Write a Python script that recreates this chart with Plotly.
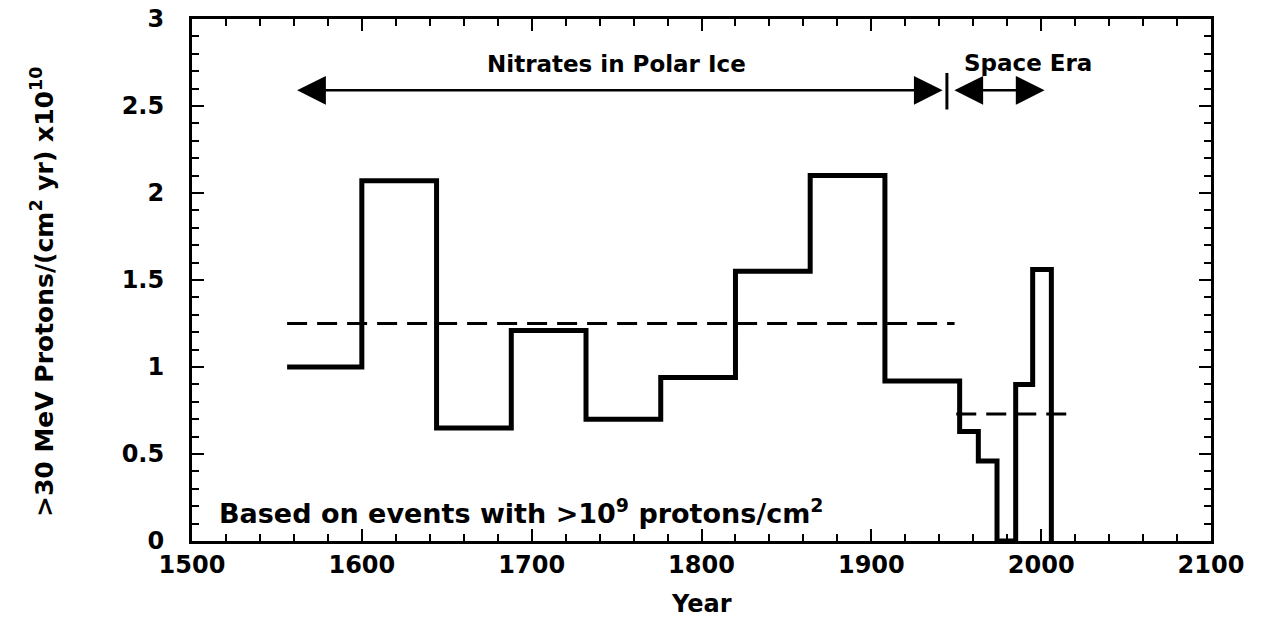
import plotly.graph_objects as go

# Step edges (years) and flux values (x10^10 protons/(cm^2 yr))
step_edges = [1556, 1600, 1644, 1688, 1732, 1776, 1820, 1864, 1908, 1952, 1963, 1974, 1985, 1995, 2006]
step_values = [1.00, 2.07, 0.65, 1.21, 0.70, 0.94, 1.55, 2.10, 0.92, 0.63, 0.46, 0.0, 0.90, 1.56]

# Mean levels (dashed)
nitrate_mean_x = [1556, 1949]
nitrate_mean_y = [1.25, 1.25]
space_mean_x = [1950, 2016]
space_mean_y = [0.73, 0.73]

x_ticks = [1500, 1600, 1700, 1800, 1900, 2000, 2100]
y_ticks = [0, 0.5, 1, 1.5, 2, 2.5, 3]

FONT = "DejaVu Sans, Liberation Sans, Arial, sans-serif"

fig = go.Figure()
fig.add_trace(go.Scatter(
    x=step_edges, y=step_values + [0.0], mode="lines",
    line=dict(color="black", width=5, shape="hv"), showlegend=False))
fig.add_trace(go.Scatter(
    x=nitrate_mean_x, y=nitrate_mean_y, mode="lines",
    line=dict(color="black", width=3, dash="20px,10px"), showlegend=False))
fig.add_trace(go.Scatter(
    x=space_mean_x, y=space_mean_y, mode="lines",
    line=dict(color="black", width=3, dash="20px,10px"), showlegend=False))

# Era separator bar
fig.add_trace(go.Scatter(
    x=[1944.5, 1944.5], y=[2.48, 2.69], mode="lines",
    line=dict(color="black", width=3), showlegend=False))

# Double arrows
arrow_common = dict(xref="x", yref="y", axref="x", ayref="y", text="", showarrow=True,
                    arrowhead=2, startarrowhead=2, arrowside="end+start",
                    arrowsize=2.3, startarrowsize=2.3, arrowwidth=2.5, arrowcolor="black")
fig.add_annotation(x=1942, y=2.59, ax=1561, ay=2.59, **arrow_common)
fig.add_annotation(x=2002, y=2.59, ax=1948, ay=2.59, **arrow_common)

text_font = dict(family=FONT, size=23, color="black", weight="bold")
fig.add_annotation(x=1750, y=2.74, text="Nitrates in Polar Ice", showarrow=False,
                   xref="x", yref="y", font=text_font)
fig.add_annotation(x=1992, y=2.75, text="Space Era", showarrow=False,
                   xref="x", yref="y", font=text_font)
fig.add_annotation(x=1515, y=0.17, text="Based on events with >10<sup>9</sup> protons/cm<sup>2</sup>",
                   showarrow=False, xref="x", yref="y", xanchor="left",
                   font=dict(family=FONT, size=27, color="black", weight="bold"))

# Axis titles
fig.add_annotation(x=0, y=0.5, xref="paper", yref="paper", xanchor="center", yanchor="middle",
                   xshift=-150, yshift=-12, textangle=-90, showarrow=False,
                   text=">30 MeV Protons/(cm<sup>2</sup> yr) x10<sup>10</sup>",
                   font=dict(family=FONT, size=25, color="black", weight="bold"))
fig.add_annotation(x=0.5, y=0, xref="paper", yref="paper", xanchor="center", yanchor="middle",
                   yshift=-63, showarrow=False, text="Year",
                   font=dict(family=FONT, size=24, color="black", weight="bold"))

axis_common = dict(showline=True, linewidth=3, linecolor="black", mirror="ticks",
                   ticks="inside", ticklen=12, tickwidth=2, tickcolor="black",
                   showgrid=False, zeroline=False, automargin=False, ticklabeloverflow="allow",
                   tickfont=dict(family=FONT, size=24, color="black", weight="bold"))

fig.update_xaxes(range=[1500, 2100], tickvals=x_ticks,
                 minor=dict(ticks="inside", ticklen=7, tickwidth=2, dtick=20, tickcolor="black", showgrid=False),
                 **axis_common)
fig.update_yaxes(range=[0, 3.0001], tickvals=y_ticks, ticklabelstandoff=20,
                 minor=dict(ticks="inside", ticklen=7, tickwidth=2, dtick=0.1, tickcolor="black", showgrid=False),
                 **axis_common)

fig.update_layout(width=1261, height=618, plot_bgcolor="white", paper_bgcolor="white",
                  margin=dict(l=184, r=58, t=11, b=85), showlegend=False)

fig.write_html("out.html")
